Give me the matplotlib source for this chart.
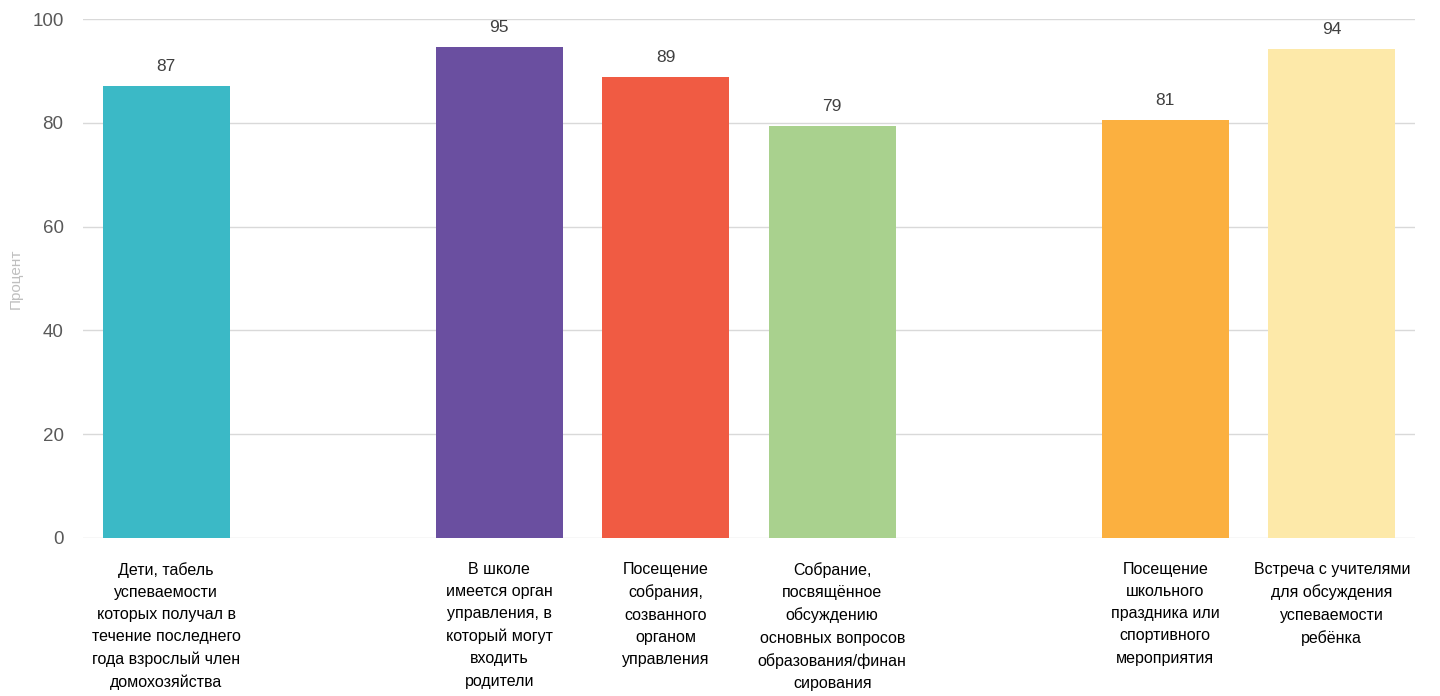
import matplotlib
matplotlib.use('Agg')
import matplotlib.pyplot as plt

# three groups of bars, one empty slot between groups
labels = [
    ['Дети, табель\nуспеваемости\nкоторых получал в\nтечение последнего\nгода взрослый член\nдомохозяйства'],
    ['В школе\nимеется орган\nуправления, в\nкоторый могут\nвходить\nродители',
     'Посещение\nсобрания,\nсозванного\nорганом\nуправления',
     'Собрание,\nпосвящённое\nобсуждению\nосновных вопросов\nобразования/финан\nсирования'],
    ['Посещение\nшкольного\nпраздника или\nспортивного\nмероприятия',
     'Встреча с учителями\nдля обсуждения\nуспеваемости\nребёнка'],
]
values = [[87.1], [94.6, 88.8, 79.4], [80.6, 94.2]]
colors = [['#3BB9C6'], ['#6A4FA0', '#F05B43', '#A9D18E'], ['#FBB040', '#FDE9A9']]

plt.rcParams['font.family'] = ['Liberation Sans', 'DejaVu Sans']

fig = plt.figure(figsize=(14.4, 6.96), dpi=100)
ax = fig.add_axes([83/1440, 1-538/696, (1415-83)/1440, (538-19)/696])

pos = 0
for g_lab, g_val, g_col in zip(labels, values, colors):
    for lab, v, c in zip(g_lab, g_val, g_col):
        ax.bar(pos, v, width=0.76, color=c, zorder=2)
        ax.text(pos, v + 2.3, f'{round(v)}', ha='center', va='bottom',
                fontsize=12.5, color='#404040')
        ax.text(pos, -4.6, lab, ha='center', va='top', fontsize=11.5,
                color='#000000', linespacing=1.6)
        pos += 1
    pos += 1

ax.set_xlim(-0.5, 7.5)
ax.set_ylim(0, 100)
ax.set_yticks([0, 20, 40, 60, 80, 100])
ax.set_xticks([])
ax.grid(axis='y', color='#d9d9d9', linewidth=1, zorder=0)
for s in ax.spines.values():
    s.set_visible(False)
ax.tick_params(axis='y', length=0, pad=14, labelsize=13.5, labelcolor='#595959')
ax.set_ylabel('Процент', fontsize=11, color='#bfbfbf')
ax.yaxis.set_label_coords(-0.045, 0.5)

fig.savefig('out.png', dpi=100)
